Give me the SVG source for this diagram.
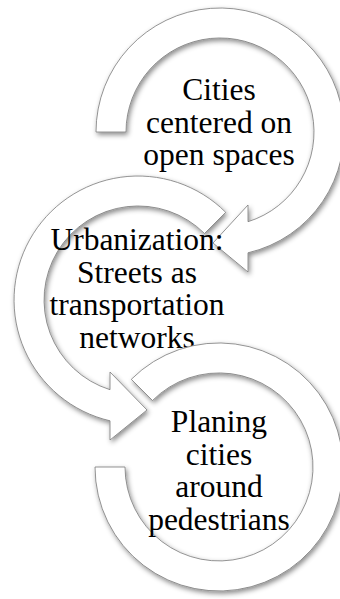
<svg xmlns="http://www.w3.org/2000/svg" width="340" height="599" viewBox="0 0 340 599">
  <defs>
    <filter id="sh" x="-20%" y="-20%" width="140%" height="140%">
      <feDropShadow dx="1.5" dy="2.5" stdDeviation="2.5" flood-color="#000" flood-opacity="0.45"/>
    </filter>
  </defs>
  <style>
    .ring { fill: #ffffff; stroke: #7a7a7a; stroke-width: 0.8; stroke-linejoin: miter; filter: url(#sh); }
    .lbl { font-family: "Liberation Serif", "Times New Roman", serif; font-size: 31.5px; fill: #000; text-anchor: middle; }
  </style>
  <rect width="340" height="599" fill="#ffffff"/>
  <g id="connectors"></g>
  <g id="node1">
    <path class="ring" d="M 96 132 A 124 124 0 1 1 248 252.8 L 248 272 L 213 243 L 248 205 L 248 221.7 A 94 94 0 1 0 126 132 Z"/>
    <text class="lbl" x="219" y="100">Cities</text>
    <text class="lbl" x="219" y="132.5">centered on</text>
    <text class="lbl" x="219" y="165">open spaces</text>
  </g>
  <g id="node2">
    <path class="ring" d="M 225.7 212.3 A 124 124 0 1 0 110 420.8 L 110 440 L 147 410 L 110 372 L 110 389.7 A 94 94 0 1 1 204.5 233.5 Z"/>
    <text class="lbl" x="137" y="250">Urbanization:</text>
    <text class="lbl" x="137" y="282.5">Streets as</text>
    <text class="lbl" x="137" y="315">transportation</text>
    <text class="lbl" x="137" y="347.5">networks</text>
  </g>
  <g id="node3">
    <path class="ring" d="M 131.3 379.3 A 124 124 0 1 1 95 467 L 125 467 A 94 94 0 1 0 152.5 400.5 Z"/>
    <text class="lbl" x="219" y="432">Planing</text>
    <text class="lbl" x="219" y="464.5">cities</text>
    <text class="lbl" x="219" y="497">around</text>
    <text class="lbl" x="219" y="529.5">pedestrians</text>
  </g>
</svg>
